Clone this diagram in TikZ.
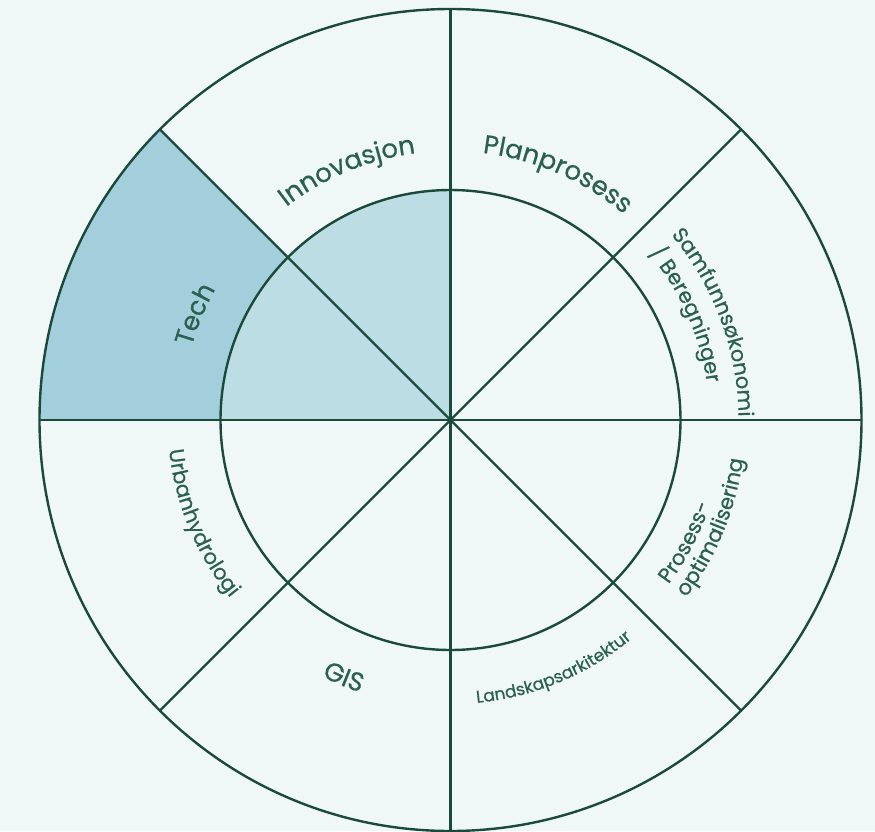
\documentclass[tikz,border=0pt]{standalone}
\usepackage{fontspec}
\setmainfont{Poppins}[FakeBold=0.5,AutoFakeBold=0.5]
\usetikzlibrary{decorations.text}
\definecolor{wheelbg}{HTML}{EFF8F6}
\definecolor{wheelline}{HTML}{1B4A3B}
\definecolor{techdark}{HTML}{A3CFDC}
\definecolor{techlight}{HTML}{BBDDE3}
\definecolor{labeltxt}{HTML}{2B5F4F}
\tikzset{
  wline/.style={draw=wheelline,line width=2.4pt},
  arclab/.style n args={3}{decorate,decoration={text along path,text align=#1,
    text={|\color{labeltxt}\fontsize{#2}{#2}\bfseries|#3}}}
}

\begin{document}
\begin{tikzpicture}[x=1pt,y=1pt]
  \fill[wheelbg] (-450.5,-411) rectangle (424.5,420);
  \useasboundingbox (-450.5,-411) rectangle (424.5,420);
  \coordinate (c) at (0,0);
  % highlighted sectors
  \fill[techlight] (c) -- (90:230) arc[start angle=90,end angle=180,radius=230] -- cycle;
  \fill[techdark] (135:230) -- (135:411) arc[start angle=135,end angle=180,radius=411]
    -- (180:230) arc[start angle=180,end angle=135,radius=230] -- cycle;
  % rings and spokes
  \draw[wline] (c) circle[radius=411]; \draw[wline] (c) circle[radius=230];
  \foreach \a in {0,45,...,315} \draw[wline,line cap=round] (c) -- (\a:411);
  % labels, upper half
  \path[arclab={center}{26}{Innovasjon}] (135:269) arc[start angle=135,end angle=90,radius=269];
  \path[arclab={center}{26}{Planprosess}] (89:269) arc[start angle=89,end angle=44,radius=269];
  \path[arclab={center}{26}{Tech}] (180:269) arc[start angle=180,end angle=135,radius=269];
  \path[arclab={left}{21}{Samfunnsøkonomi}] (40:288) arc[start angle=40,end angle=0,radius=288];
  \path[arclab={left}{21}{/ Beregninger}] (40:259) arc[start angle=40,end angle=0,radius=259];
  % labels, lower half
  \path[arclab={left}{21}{Prosess-}] (-37:273) arc[start angle=-37,end angle=0,radius=273];
  \path[arclab={left}{21}{optimalisering}] (-37:295) arc[start angle=-37,end angle=0,radius=295];
  \path[arclab={center}{17}{Landskapsarkitektur}] (-90:284) arc[start angle=-90,end angle=-45,radius=284];
  \path[arclab={center}{26}{GIS}] (-135:287) arc[start angle=-135,end angle=-90,radius=287];
  \path[arclab={center}{21}{Urbanhydrologi}] (-180:283) arc[start angle=-180,end angle=-135,radius=283];
\end{tikzpicture}
\end{document}
